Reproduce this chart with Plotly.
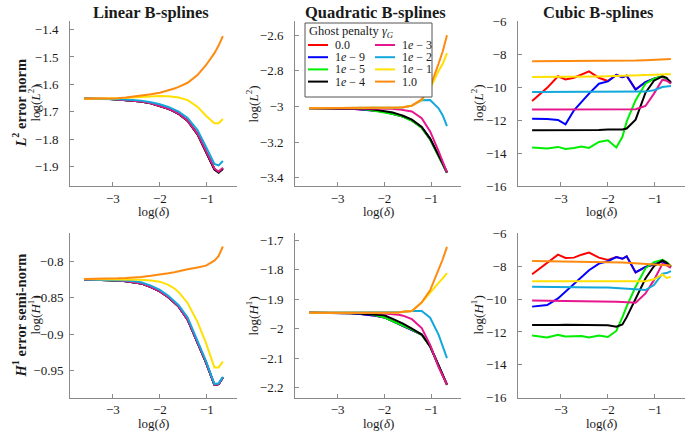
import plotly.graph_objects as go

# ---------------- data ----------------
X = [-3.61, -3.29, -3.06, -2.90, -2.72, -2.56, -2.40, -2.19, -2.00, -1.82,
     -1.69, -1.60, -1.41, -1.20, -1.02, -0.84, -0.75, -0.66]

SERIES = ["red", "blue", "green", "black", "pink", "cyan", "yellow", "orange"]
LEGEND_LABELS = ["0.0", "1<i>e</i> − 9", "1<i>e</i> − 5", "1<i>e</i> − 4",
                 "1<i>e</i> − 3", "1<i>e</i> − 2", "1<i>e</i> − 1", "1.0"]
COLORS = ["#ff0000", "#0000ff", "#00ee00", "#000000",
          "#e6168c", "#12a8dc", "#ffe000", "#ff8a10"]
LEGEND_TITLE = "Ghost penalty <i>γ</i><sub><i>G</i></sub>"

# Linear B-splines, L2
lin_l2_red = [-1.652, -1.652, -1.653, -1.655, -1.657, -1.659, -1.662, -1.669, -1.678, -1.689, -1.699, -1.707, -1.732, -1.781, -1.844, -1.908, -1.919, -1.905]
lin_l2_blue = [-1.652, -1.652, -1.653, -1.655, -1.657, -1.659, -1.662, -1.669, -1.678, -1.689, -1.699, -1.707, -1.732, -1.781, -1.844, -1.908, -1.919, -1.905]
lin_l2_green = [-1.652, -1.652, -1.653, -1.655, -1.657, -1.659, -1.662, -1.669, -1.678, -1.689, -1.699, -1.707, -1.732, -1.781, -1.844, -1.908, -1.919, -1.905]
lin_l2_black = [-1.652, -1.652, -1.653, -1.655, -1.657, -1.659, -1.662, -1.669, -1.678, -1.689, -1.699, -1.708, -1.733, -1.782, -1.846, -1.910, -1.922, -1.908]
lin_l2_pink = [-1.652, -1.652, -1.653, -1.655, -1.657, -1.659, -1.662, -1.669, -1.678, -1.689, -1.699, -1.707, -1.732, -1.780, -1.843, -1.907, -1.918, -1.904]
lin_l2_cyan = [-1.652, -1.652, -1.653, -1.654, -1.655, -1.657, -1.659, -1.665, -1.672, -1.682, -1.691, -1.699, -1.722, -1.766, -1.827, -1.890, -1.895, -1.879]
lin_l2_yellow = [-1.652, -1.652, -1.651, -1.650, -1.649, -1.647, -1.645, -1.643, -1.642, -1.643, -1.645, -1.648, -1.657, -1.681, -1.714, -1.741, -1.741, -1.726]
lin_l2_orange = [-1.652, -1.652, -1.651, -1.650, -1.648, -1.645, -1.641, -1.636, -1.630, -1.622, -1.615, -1.609, -1.594, -1.566, -1.530, -1.486, -1.458, -1.424]

# Linear B-splines, H1
lin_h1_red = [-0.8245, -0.825, -0.8255, -0.826, -0.827, -0.828, -0.830, -0.835, -0.841, -0.849, -0.856, -0.862, -0.880, -0.911, -0.939, -0.970, -0.969, -0.960]
lin_h1_blue = [-0.8245, -0.825, -0.8255, -0.826, -0.827, -0.828, -0.830, -0.835, -0.841, -0.849, -0.856, -0.862, -0.880, -0.911, -0.939, -0.970, -0.969, -0.960]
lin_h1_green = [-0.8245, -0.825, -0.8255, -0.826, -0.827, -0.828, -0.830, -0.835, -0.841, -0.849, -0.856, -0.862, -0.880, -0.911, -0.939, -0.970, -0.969, -0.960]
lin_h1_black = [-0.8245, -0.825, -0.8255, -0.826, -0.827, -0.828, -0.830, -0.835, -0.841, -0.849, -0.856, -0.862, -0.880, -0.911, -0.939, -0.970, -0.969, -0.960]
lin_h1_pink = [-0.8245, -0.825, -0.8255, -0.826, -0.827, -0.828, -0.830, -0.835, -0.841, -0.849, -0.856, -0.862, -0.880, -0.911, -0.939, -0.970, -0.969, -0.960]
lin_h1_cyan = [-0.8245, -0.8248, -0.825, -0.8255, -0.826, -0.827, -0.8285, -0.833, -0.839, -0.847, -0.854, -0.860, -0.877, -0.908, -0.937, -0.969, -0.968, -0.959]
lin_h1_yellow = [-0.824, -0.824, -0.824, -0.824, -0.8242, -0.8245, -0.825, -0.826, -0.8276, -0.832, -0.837, -0.842, -0.857, -0.883, -0.912, -0.946, -0.946, -0.938]
lin_h1_orange = [-0.824, -0.824, -0.8235, -0.823, -0.8225, -0.822, -0.821, -0.8195, -0.818, -0.816, -0.8145, -0.8135, -0.8105, -0.808, -0.8055, -0.7985, -0.792, -0.779]

# Quadratic B-splines, L2
quad_l2_red = [-3.009, -3.009, -3.010, -3.011, -3.013, -3.015, -3.018, -3.023, -3.030, -3.040, -3.048, -3.056, -3.078, -3.118, -3.183, -3.273, -3.323, -3.370]
quad_l2_blue = [-3.009, -3.009, -3.010, -3.011, -3.013, -3.015, -3.018, -3.023, -3.030, -3.040, -3.048, -3.056, -3.078, -3.118, -3.183, -3.273, -3.323, -3.370]
quad_l2_green = [-3.009, -3.009, -3.009, -3.010, -3.011, -3.013, -3.016, -3.025, -3.032, -3.042, -3.050, -3.058, -3.080, -3.120, -3.185, -3.275, -3.325, -3.372]
quad_l2_black = [-3.009, -3.009, -3.009, -3.009, -3.010, -3.011, -3.013, -3.018, -3.025, -3.034, -3.044, -3.052, -3.074, -3.115, -3.180, -3.270, -3.320, -3.370]
quad_l2_pink = [-3.009, -3.009, -3.009, -3.009, -3.009, -3.009, -3.009, -3.010, -3.011, -3.013, -3.016, -3.020, -3.028, -3.065, -3.140, -3.250, -3.310, -3.370]
quad_l2_cyan = [-3.009, -3.009, -3.009, -3.009, -3.009, -3.009, -3.009, -3.009, -3.009, -3.009, -3.008, -3.006, -2.995, -2.965, -2.963, -3.010, -3.050, -3.110]
quad_l2_yellow = [-3.009, -3.009, -3.009, -3.009, -3.009, -3.009, -3.009, -3.009, -3.009, -3.008, -3.006, -3.004, -2.996, -2.963, -2.900, -2.800, -2.760, -2.700]
quad_l2_orange = [-3.009, -3.009, -3.009, -3.009, -3.009, -3.009, -3.009, -3.009, -3.009, -3.008, -3.006, -3.004, -2.995, -2.960, -2.890, -2.760, -2.690, -2.600]

# Quadratic B-splines, H1
quad_h1_red = [-1.946, -1.946, -1.946, -1.947, -1.948, -1.950, -1.952, -1.956, -1.962, -1.975, -1.983, -1.990, -2.003, -2.020, -2.060, -2.125, -2.160, -2.190]
quad_h1_blue = [-1.946, -1.946, -1.946, -1.947, -1.948, -1.950, -1.952, -1.956, -1.962, -1.975, -1.983, -1.990, -2.003, -2.020, -2.060, -2.125, -2.160, -2.190]
quad_h1_green = [-1.946, -1.946, -1.946, -1.946, -1.946, -1.947, -1.948, -1.955, -1.962, -1.975, -1.983, -1.990, -2.003, -2.021, -2.061, -2.126, -2.161, -2.191]
quad_h1_black = [-1.946, -1.946, -1.946, -1.946, -1.947, -1.948, -1.950, -1.952, -1.955, -1.967, -1.976, -1.983, -2.000, -2.020, -2.060, -2.125, -2.160, -2.190]
quad_h1_pink = [-1.946, -1.946, -1.946, -1.946, -1.946, -1.946, -1.946, -1.947, -1.949, -1.951, -1.953, -1.956, -1.968, -1.998, -2.055, -2.130, -2.160, -2.190]
quad_h1_cyan = [-1.946, -1.946, -1.946, -1.946, -1.946, -1.946, -1.946, -1.946, -1.946, -1.945, -1.944, -1.943, -1.940, -1.940, -1.963, -2.020, -2.060, -2.100]
quad_h1_yellow = [-1.946, -1.946, -1.946, -1.946, -1.946, -1.946, -1.946, -1.946, -1.946, -1.946, -1.945, -1.943, -1.940, -1.912, -1.877, -1.845, -1.830, -1.812]
quad_h1_orange = [-1.946, -1.946, -1.946, -1.946, -1.946, -1.946, -1.946, -1.946, -1.946, -1.946, -1.945, -1.943, -1.940, -1.911, -1.870, -1.800, -1.765, -1.723]

# Cubic B-splines, L2
cub_l2_red = [-10.85, -10.05, -9.35, -9.54, -9.44, -9.22, -9.05, -9.44, -9.64, -9.27, -9.40, -9.31, -10.16, -9.70, -9.50, -9.35, -9.55, -9.70]
cub_l2_blue = [-11.92, -11.94, -12.00, -12.26, -11.41, -10.90, -10.40, -9.80, -9.66, -9.27, -9.40, -9.31, -10.16, -9.70, -9.50, -9.35, -9.55, -9.70]
cub_l2_green = [-13.67, -13.73, -13.63, -13.75, -13.69, -13.61, -13.69, -13.33, -13.23, -13.67, -13.02, -12.10, -10.80, -9.80, -9.50, -9.35, -9.55, -9.76]
cub_l2_black = [-12.62, -12.62, -12.62, -12.62, -12.62, -12.61, -12.61, -12.60, -12.57, -12.58, -12.57, -12.52, -11.98, -10.35, -9.62, -9.35, -9.45, -9.76]
cub_l2_pink = [-11.37, -11.37, -11.37, -11.37, -11.37, -11.37, -11.37, -11.37, -11.37, -11.37, -11.36, -11.36, -11.35, -11.15, -10.40, -9.56, -9.62, -9.80]
cub_l2_cyan = [-10.30, -10.30, -10.30, -10.30, -10.30, -10.30, -10.30, -10.30, -10.30, -10.30, -10.30, -10.30, -10.29, -10.28, -10.20, -10.00, -9.97, -9.94]
cub_l2_yellow = [-9.40, -9.40, -9.39, -9.39, -9.38, -9.38, -9.37, -9.36, -9.35, -9.34, -9.33, -9.32, -9.30, -9.28, -9.26, -9.24, -9.23, -9.22]
cub_l2_orange = [-8.44, -8.44, -8.44, -8.44, -8.44, -8.43, -8.43, -8.43, -8.42, -8.42, -8.41, -8.41, -8.40, -8.38, -8.36, -8.33, -8.31, -8.30]

# Cubic B-splines, H1
cub_h1_red = [-8.49, -7.78, -7.30, -7.50, -7.48, -7.30, -7.17, -7.48, -7.62, -7.45, -7.55, -7.40, -8.38, -8.04, -7.90, -7.70, -7.85, -8.04]
cub_h1_blue = [-10.46, -10.36, -9.96, -9.55, -9.10, -8.65, -8.25, -7.84, -7.70, -7.45, -7.55, -7.40, -8.38, -8.04, -7.90, -7.70, -7.85, -8.04]
cub_h1_green = [-12.22, -12.34, -12.18, -12.28, -12.26, -12.25, -12.34, -12.22, -12.31, -11.94, -11.10, -10.45, -9.25, -8.13, -7.75, -7.62, -7.75, -8.00]
cub_h1_black = [-11.58, -11.60, -11.58, -11.57, -11.58, -11.57, -11.58, -11.59, -11.60, -11.68, -11.55, -11.10, -10.00, -8.75, -8.00, -7.65, -7.80, -8.04]
cub_h1_pink = [-10.08, -10.09, -10.10, -10.10, -10.10, -10.10, -10.11, -10.12, -10.14, -10.16, -10.18, -10.19, -10.22, -9.66, -8.85, -7.85, -7.95, -8.10]
cub_h1_cyan = [-9.25, -9.25, -9.26, -9.26, -9.27, -9.27, -9.28, -9.29, -9.30, -9.32, -9.33, -9.35, -9.40, -9.45, -9.15, -8.45, -8.42, -8.30]
cub_h1_yellow = [-8.91, -8.91, -8.91, -8.91, -8.91, -8.91, -8.91, -8.91, -8.91, -8.91, -8.91, -8.91, -8.91, -8.91, -8.80, -8.50, -8.72, -8.65]
cub_h1_orange = [-7.68, -7.69, -7.70, -7.70, -7.71, -7.71, -7.72, -7.73, -7.75, -7.77, -7.78, -7.79, -7.82, -7.86, -7.88, -7.92, -7.94, -7.96]

X_TICKS = [-3, -2, -1]
X_TICKTEXT = ["−3", "−2", "−1"]
LIN_L2_TICKS = [-1.4, -1.5, -1.6, -1.7, -1.8, -1.9]
LIN_L2_TEXT = ["−1.4", "−1.5", "−1.6", "−1.7", "−1.8", "−1.9"]
QUAD_L2_TICKS = [-2.6, -2.8, -3.0, -3.2, -3.4]
QUAD_L2_TEXT = ["−2.6", "−2.8", "−3", "−3.2", "−3.4"]
CUB_TICKS = [-6, -8, -10, -12, -14, -16]
CUB_TEXT = ["−6", "−8", "−10", "−12", "−14", "−16"]
LIN_H1_TICKS = [-0.8, -0.85, -0.9, -0.95]
LIN_H1_TEXT = ["−0.8", "−0.85", "−0.9", "−0.95"]
QUAD_H1_TICKS = [-1.7, -1.8, -1.9, -2.0, -2.1, -2.2]
QUAD_H1_TEXT = ["−1.7", "−1.8", "−1.9", "−2", "−2.1", "−2.2"]

COL_TITLES = ["Linear B-splines", "Quadratic B-splines", "Cubic B-splines"]
ROW_TITLES = ["<i>L</i><sup>2</sup> error norm", "<i>H</i><sup>1</sup> error semi-norm"]
Y_TITLES = ["log(<i>L</i><sup>2</sup>)", "log(<i>H</i><sup>1</sup>)"]
X_TITLE = "log(<i>δ</i>)"

# ---------------- figure ----------------
W, H = 685, 432
FONT = "Liberation Serif"
AXC = "#8a8a8a"
TXT = "#1a1a1a"

panels = [
    (0, 0, [lin_l2_red, lin_l2_blue, lin_l2_green, lin_l2_black, lin_l2_pink, lin_l2_cyan, lin_l2_yellow, lin_l2_orange],
     [-1.970, -1.369], LIN_L2_TICKS, LIN_L2_TEXT, 8),
    (0, 1, [quad_l2_red, quad_l2_blue, quad_l2_green, quad_l2_black, quad_l2_pink, quad_l2_cyan, quad_l2_yellow, quad_l2_orange],
     [-3.446, -2.52], QUAD_L2_TICKS, QUAD_L2_TEXT, 8),
    (0, 2, [cub_l2_red, cub_l2_blue, cub_l2_green, cub_l2_black, cub_l2_pink, cub_l2_cyan, cub_l2_yellow, cub_l2_orange],
     [-16, -6], CUB_TICKS, CUB_TEXT, 8),
    (1, 0, [lin_h1_red, lin_h1_blue, lin_h1_green, lin_h1_black, lin_h1_pink, lin_h1_cyan, lin_h1_yellow, lin_h1_orange],
     [-0.9878, -0.7608], LIN_H1_TICKS, LIN_H1_TEXT, 3),
    (1, 1, [quad_h1_red, quad_h1_blue, quad_h1_green, quad_h1_black, quad_h1_pink, quad_h1_cyan, quad_h1_yellow, quad_h1_orange],
     [-2.234, -1.677], QUAD_H1_TICKS, QUAD_H1_TEXT, 8),
    (1, 2, [cub_h1_red, cub_h1_blue, cub_h1_green, cub_h1_black, cub_h1_pink, cub_h1_cyan, cub_h1_yellow, cub_h1_orange],
     [-16, -6], CUB_TICKS, CUB_TEXT, 8),
]

col_px = [(70, 237), (295, 461), (518, 685)]
row_px = [(21, 186), (233.3, 397.7)]
ytitle_px = [34, 252, 477]

fig = go.Figure()
layout = {}
for i, (r, c, lists, yr, tv, tt, ystand) in enumerate(panels):
    n = i + 1
    xa = "x" if n == 1 else f"x{n}"
    ya = "y" if n == 1 else f"y{n}"
    xkey = "xaxis" if n == 1 else f"xaxis{n}"
    ykey = "yaxis" if n == 1 else f"yaxis{n}"
    for k, ys in enumerate(lists):
        fig.add_trace(go.Scatter(
            x=X, y=ys, mode="lines", xaxis=xa, yaxis=ya,
            line=dict(color=COLORS[k], width=2),
            name=LEGEND_LABELS[k], showlegend=False, hoverinfo="skip"))
    x0, x1 = col_px[c]
    y0, y1 = row_px[r]
    common = dict(showline=True, linecolor=AXC, linewidth=1, showgrid=False,
                  zeroline=False, ticks="inside", ticklen=4, tickcolor=AXC,
                  tickfont=dict(family=FONT, size=13, color=TXT), automargin=False)
    layout[xkey] = dict(domain=[x0 / W, x1 / W], range=[-3.91, -0.36],
                        anchor=ya, tickvals=X_TICKS, ticktext=X_TICKTEXT,
                        ticklabelstandoff=0, **common)
    layout[ykey] = dict(domain=[1 - y1 / H, 1 - y0 / H], range=yr,
                        anchor=xa, tickvals=tv, ticktext=tt,
                        ticklabelstandoff=ystand, **common)

annotations = []
for c in range(3):
    x0, x1 = col_px[c]
    annotations.append(dict(text="<b>" + COL_TITLES[c] + "</b>", x=((x0 + x1) / 2 - 3) / W,
                            y=1 - 13 / H, xref="paper", yref="paper", showarrow=False,
                            font=dict(family=FONT, size=16.5, color=TXT),
                            xanchor="center", yanchor="middle"))
    for r in range(2):
        y0, y1 = row_px[r]
        annotations.append(dict(text=Y_TITLES[r], x=ytitle_px[c] / W, y=1 - ((y0 + y1) / 2) / H,
                                xref="paper", yref="paper", showarrow=False, textangle=-90,
                                font=dict(family=FONT, size=13, color=TXT),
                                xanchor="center", yanchor="middle"))
        annotations.append(dict(text=X_TITLE, x=((x0 + x1) / 2) / W,
                                y=1 - (y1 + 26) / H, xref="paper", yref="paper",
                                showarrow=False, font=dict(family=FONT, size=13, color=TXT),
                                xanchor="center", yanchor="middle"))
for r in range(2):
    y0, y1 = row_px[r]
    annotations.append(dict(text="<b>" + ROW_TITLES[r] + "</b>", x=19 / W,
                            y=1 - ((y0 + y1) / 2) / H, xref="paper", yref="paper",
                            showarrow=False, textangle=-90,
                            font=dict(family=FONT, size=14.5, color=TXT),
                            xanchor="center", yanchor="middle"))

# legend box (two columns, drawn in paper coordinates)
shapes = [dict(type="rect", xref="paper", yref="paper",
               x0=305 / W, x1=432 / W, y0=1 - 97 / H, y1=1 - 23 / H,
               line=dict(color="#555555", width=1), fillcolor="white", layer="above")]
annotations.append(dict(text=LEGEND_TITLE, x=308 / W, y=1 - 32 / H, xref="paper", yref="paper",
                        showarrow=False, xanchor="left", yanchor="middle", borderpad=0,
                        font=dict(family=FONT, size=12.5, color=TXT)))
leg_rows = [45.0, 57.2, 69.4, 81.6]
leg_cols = [(308, 328, 334), (375, 395, 401)]
for k in range(8):
    col = k // 4
    row = k % 4
    lx0, lx1, tx = leg_cols[col]
    yy = 1 - leg_rows[row] / H
    shapes.append(dict(type="line", xref="paper", yref="paper",
                       x0=lx0 / W, x1=lx1 / W, y0=yy, y1=yy,
                       line=dict(color=COLORS[k], width=2), layer="above"))
    annotations.append(dict(text=LEGEND_LABELS[k], x=tx / W, y=yy, xref="paper", yref="paper",
                            showarrow=False, xanchor="left", yanchor="middle", borderpad=0,
                            font=dict(family=FONT, size=12, color=TXT)))

fig.update_layout(
    width=W, height=H, margin=dict(l=0, r=0, t=0, b=0, autoexpand=False),
    paper_bgcolor="white", plot_bgcolor="white",
    showlegend=False,
    annotations=annotations,
    shapes=shapes,
    **layout,
)

fig.write_html("out.html", config={"displayModeBar": False},
               post_script="document.body.style.margin='0';document.body.style.overflow='hidden';")
